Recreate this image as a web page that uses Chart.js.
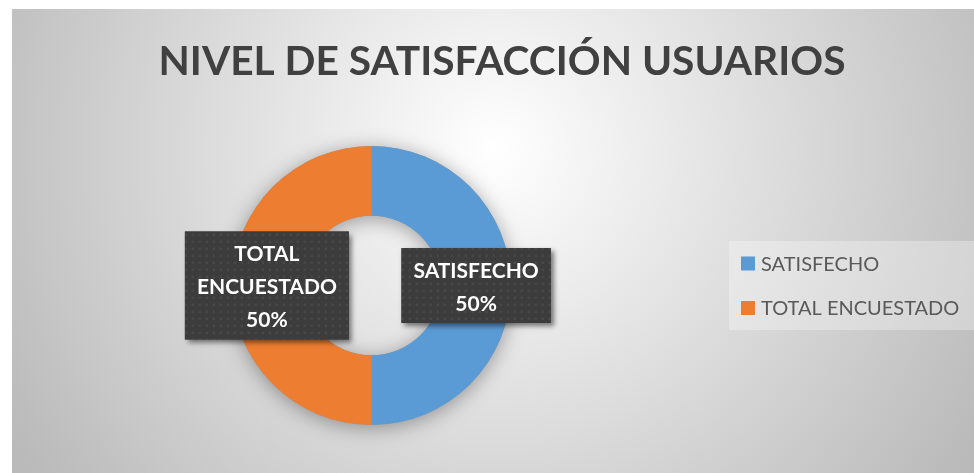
<!DOCTYPE html>
<html lang="es">
<head>
<meta charset="utf-8">
<title>Nivel de satisfacción usuarios</title>
<script src="https://cdn.jsdelivr.net/npm/chart.js@4.4.1/dist/chart.umd.min.js"></script>
<style>
  html, body { margin: 0; padding: 0; background: #fff; }
  canvas { display: block; }
</style>
</head>
<body>
<canvas id="satisfaccionChart" width="974" height="473"></canvas>
<script>
// Datos del gráfico
const titulo = 'NIVEL DE SATISFACCIÓN USUARIOS';
const categorias = ['SATISFECHO', 'TOTAL ENCUESTADO'];
const valores = [50, 50];
const colores = ['#5B9BD5', '#ED7D31'];

const FONT = 'Lato, "Open Sans", "DejaVu Sans", sans-serif';

// Fondo con degradado radial (estilo Excel)
const fondoPlugin = {
    id: 'fondo',
    beforeDraw(chart) {
        const ctx = chart.ctx;
        ctx.save();
        ctx.fillStyle = '#fff';
        ctx.fillRect(0, 0, chart.width, chart.height);
        const g = ctx.createRadialGradient(495, 150, 0, 495, 150, 560);
        g.addColorStop(0, '#ffffff');
        g.addColorStop(1, '#bababa');
        ctx.fillStyle = g;
        ctx.fillRect(12, 9, chart.width - 12, chart.height - 9);
        ctx.restore();
    }
};

// Título dibujado a mano (fuente más estrecha, tipo Calibri)
const tituloPlugin = {
    id: 'tituloExcel',
    afterDraw(chart) {
        const ctx = chart.ctx;
        ctx.save();
        ctx.font = 'bold 41px ' + FONT;
        const w = ctx.measureText(titulo).width;
        const sx = Math.min(1, 687 / w);
        ctx.translate(502, 75);
        ctx.scale(sx, 1);
        ctx.fillStyle = '#404040';
        ctx.textAlign = 'center';
        ctx.textBaseline = 'alphabetic';
        ctx.fillText(titulo, 0, 0);
        ctx.restore();
    }
};

// Sombra suave alrededor del anillo
const sombraPlugin = {
    id: 'sombraAnillo',
    beforeDatasetsDraw(chart) {
        const arc = chart.getDatasetMeta(0).data[0];
        if (!arc) return;
        const ctx = chart.ctx;
        ctx.save();
        ctx.beginPath();
        ctx.arc(arc.x, arc.y, arc.outerRadius, 0, Math.PI * 2);
        ctx.arc(arc.x, arc.y, arc.innerRadius, 0, Math.PI * 2, true);
        ctx.shadowColor = 'rgba(0,0,0,0.35)';
        ctx.shadowBlur = 20;
        ctx.shadowOffsetY = 3;
        ctx.fillStyle = '#999';
        ctx.fill('evenodd');
        ctx.restore();
    }
};

// Patrón de puntos para las etiquetas
function patronPuntos(ctx) {
    const p = document.createElement('canvas');
    p.width = 7; p.height = 7;
    const pc = p.getContext('2d');
    pc.fillStyle = '#3c3c3c';
    pc.fillRect(0, 0, 7, 7);
    pc.fillStyle = '#474747';
    pc.fillRect(3, 3, 2, 2);
    pc.fillStyle = '#414141';
    pc.fillRect(3, 2, 2, 1);
    pc.fillRect(2, 3, 1, 2);
    return ctx.createPattern(p, 'repeat');
}

function partirTexto(ctx, texto, maxAncho) {
    const palabras = texto.split(' ');
    const lineas = [];
    let actual = '';
    palabras.forEach(pal => {
        const prueba = actual ? actual + ' ' + pal : pal;
        if (actual && ctx.measureText(prueba).width > maxAncho) {
            lineas.push(actual);
            actual = pal;
        } else {
            actual = prueba;
        }
    });
    if (actual) lineas.push(actual);
    return lineas;
}

// Etiquetas de datos (nombre de categoría + porcentaje)
const etiquetasPlugin = {
    id: 'etiquetas',
    afterDatasetsDraw(chart) {
        const ctx = chart.ctx;
        const meta = chart.getDatasetMeta(0);
        const datos = chart.data.datasets[0].data;
        const total = datos.reduce((a, b) => a + b, 0);
        const relleno = patronPuntos(ctx);
        ctx.save();
        ctx.font = 'bold 21px ' + FONT;
        meta.data.forEach((arc, i) => {
            const pos = arc.tooltipPosition();
            const pct = Math.round(datos[i] / total * 100) + '%';
            const lineas = partirTexto(ctx, chart.data.labels[i], 155).concat([pct]);
            const anchoTexto = Math.max(...lineas.map(l => ctx.measureText(l).width));
            const w = anchoTexto + 24;
            const h = lineas.length * 33 + 9;
            const x = pos.x - w / 2;
            const y = pos.y - h / 2;

            ctx.save();
            ctx.shadowColor = 'rgba(0,0,0,0.5)';
            ctx.shadowBlur = 5;
            ctx.shadowOffsetX = 3;
            ctx.shadowOffsetY = 3;
            ctx.fillStyle = '#3c3c3c';
            ctx.fillRect(x, y, w, h);
            ctx.restore();
            ctx.fillStyle = relleno;
            ctx.fillRect(x, y, w, h);

            ctx.fillStyle = '#ffffff';
            ctx.textAlign = 'center';
            ctx.textBaseline = 'middle';
            lineas.forEach((l, j) => {
                ctx.fillText(l, pos.x, y + 23 + j * 33);
            });
        });
        ctx.restore();
    }
};

// Leyenda a la derecha
const leyendaPlugin = {
    id: 'leyendaExcel',
    afterDraw(chart) {
        const ctx = chart.ctx;
        ctx.save();
        ctx.fillStyle = 'rgba(255,255,255,0.3)';
        ctx.fillRect(729, 241, chart.width - 729, 89);
        ctx.font = '20px ' + FONT;
        ctx.textBaseline = 'middle';
        ctx.textAlign = 'left';
        chart.data.labels.forEach((lab, i) => {
            const cy = 263.5 + i * 44.5;
            ctx.fillStyle = chart.data.datasets[0].backgroundColor[i];
            ctx.fillRect(741, cy - 7, 14, 14);
            ctx.fillStyle = '#595959';
            ctx.fillText(lab, 761, cy + 1);
        });
        ctx.restore();
    }
};

const ctx = document.getElementById('satisfaccionChart').getContext('2d');

new Chart(ctx, {
    type: 'doughnut',
    data: {
        labels: categorias,
        datasets: [{
            data: valores,
            backgroundColor: colores,
            borderWidth: 0
        }]
    },
    options: {
        responsive: false,
        animation: false,
        cutout: '50%',
        layout: { padding: { left: 232, top: 146, right: 463, bottom: 48 } },
        plugins: {
            legend: { display: false },
            title: { display: false },
            tooltip: { enabled: false }
        }
    },
    plugins: [fondoPlugin, sombraPlugin, etiquetasPlugin, tituloPlugin, leyendaPlugin]
});
</script>
</body>
</html>
